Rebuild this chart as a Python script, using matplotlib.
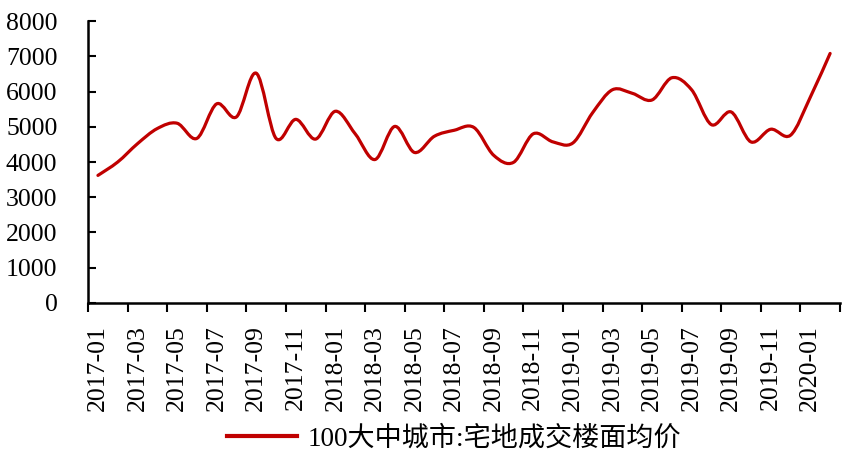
import matplotlib
matplotlib.use('Agg')
import matplotlib.pyplot as plt
from matplotlib.path import Path
from matplotlib.patches import PathPatch
from matplotlib.lines import Line2D

# ── datos ─────────────────────────────────────────────────────────────────────
months = [
    '2017-01', '2017-02', '2017-03', '2017-04', '2017-05', '2017-06',
    '2017-07', '2017-08', '2017-09', '2017-10', '2017-11', '2017-12',
    '2018-01', '2018-02', '2018-03', '2018-04', '2018-05', '2018-06',
    '2018-07', '2018-08', '2018-09', '2018-10', '2018-11', '2018-12',
    '2019-01', '2019-02', '2019-03', '2019-04', '2019-05', '2019-06',
    '2019-07', '2019-08', '2019-09', '2019-10', '2019-11', '2019-12',
    '2020-01', '2020-02',
]
precio = [
    3620, 4000, 4520, 4950, 5100, 4670, 5650, 5280, 6520, 4670, 5210, 4650,
    5440, 4800, 4070, 5010, 4270, 4730, 4900, 4980, 4190, 3990, 4800, 4570,
    4540, 5400, 6050, 5950, 5760, 6390, 6050, 5060, 5420, 4570, 4930, 4760,
    5840, 7080,
]
serie = '100大中城市:宅地成交楼面均价'
yticks = [0, 1000, 2000, 3000, 4000, 5000, 6000, 7000, 8000]

RED = '#C00000'
FS = 18.5
FONT = ['Liberation Serif', 'Noto Sans CJK SC', 'DejaVu Sans']
plt.rcParams['font.family'] = FONT


def _smooth_path(xs, ys):
    """Curva suavizada tipo Excel: bezier cubica con tangentes catmull-rom."""
    pts = list(zip(xs, ys))
    n = len(pts)
    verts = [pts[0]]
    codes = [Path.MOVETO]
    for i in range(n - 1):
        p0 = pts[i - 1] if i > 0 else pts[i]
        p1 = pts[i]
        p2 = pts[i + 1]
        p3 = pts[i + 2] if i + 2 < n else pts[i + 1]
        c1 = (p1[0] + (p2[0] - p0[0]) / 6, p1[1] + (p2[1] - p0[1]) / 6)
        c2 = (p2[0] - (p3[0] - p1[0]) / 6, p2[1] - (p3[1] - p1[1]) / 6)
        verts += [c1, c2, p2]
        codes += [Path.CURVE4] * 3
    return Path(verts, codes)


fig = plt.figure(figsize=(8.49, 4.57), dpi=100)
ax = fig.add_axes([0.1037, 0.337, 0.8857, 0.617])

x = list(range(len(precio)))
ax.add_patch(PathPatch(_smooth_path(x, precio), facecolor='none',
                       edgecolor=RED, lw=2.3, capstyle='round',
                       joinstyle='round'))

ax.set_xlim(-0.5, len(precio) - 0.5)
ax.set_ylim(0, 8000)

# ejes estilo excel: ticks entre categorias, etiqueta cada dos meses
ax.set_xticks([i - 0.5 for i in range(0, len(precio) + 1, 2)])
ax.set_xticklabels([])
ax.set_xticks(x[::2], months[::2], minor=True)
ax.tick_params(axis='x', which='major', direction='out', length=6.5,
               width=1.5, color='black')
ax.tick_params(axis='x', which='minor', length=0, pad=16,
               labelrotation=90, labelsize=FS)

ax.set_yticks(yticks)
ax.set_yticklabels([str(v) for v in yticks])
ax.tick_params(axis='y', direction='in', length=6, width=1.5,
               pad=22, labelsize=FS)

for s in ['top', 'right']:
    ax.spines[s].set_visible(False)
for s in ['left', 'bottom']:
    ax.spines[s].set_linewidth(1.8)
    ax.spines[s].set_color('black')

handle = Line2D([], [], color=RED, lw=3)
fig.legend([handle], [serie], loc='center', bbox_to_anchor=(0.535, 0.04),
           frameon=False, handlelength=2.6, handletextpad=0.4,
           prop={'family': FONT, 'size': 19.5})

fig.savefig('out.png', dpi=100)
